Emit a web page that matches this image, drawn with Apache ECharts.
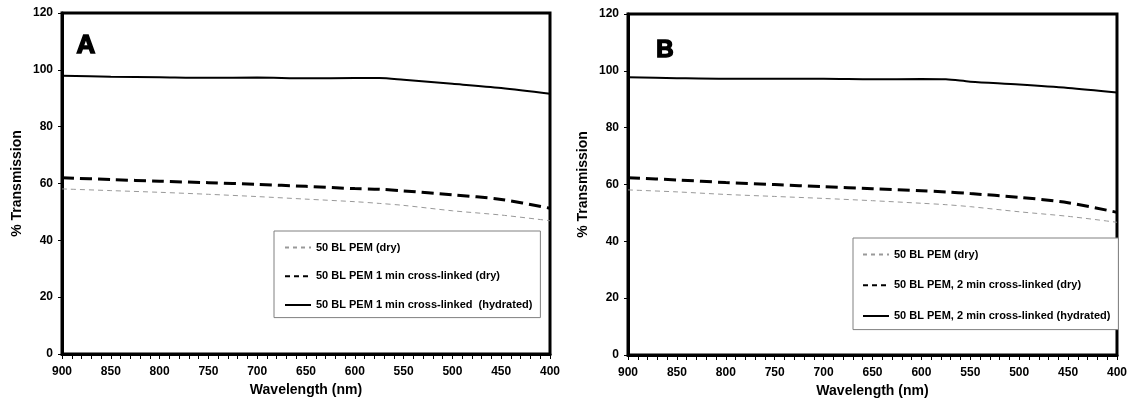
<!DOCTYPE html>
<html>
<head>
<meta charset="utf-8">
<script src="https://cdn.jsdelivr.net/npm/echarts@6/dist/echarts.min.js"></script>
<style>
  html, body { margin: 0; padding: 0; background: #fff; }
  #chart { width: 1130px; height: 408px; }
</style>
</head>
<body>
<div id="chart"></div>
<script>
// wavelength samples (nm)
var wavelengths = [900, 850, 800, 750, 700, 650, 600, 575, 550, 500, 450, 400];

// panel A - 1 min cross-linked
var dryA = [58.1, 57.5, 56.9, 56.2, 55.4, 54.5, 53.6, 53.0, 52.3, 50.4, 48.9, 46.9];
var xlDryA = [62.0, 61.4, 60.8, 60.3, 59.7, 59.0, 58.2, 58.0, 57.4, 56.0, 54.4, 51.3];
var xlHydA = [97.9, 97.6, 97.4, 97.2, 97.3, 97.0, 97.1, 97.1, 96.5, 95.1, 93.6, 91.6];

// panel B - 2 min cross-linked
var dryB = [58.1, 57.4, 56.5, 55.8, 55.1, 54.3, 53.4, 52.9, 52.2, 50.4, 48.8, 46.7];
var xlDryB = [62.4, 61.6, 60.7, 60.0, 59.2, 58.5, 57.8, 57.4, 56.8, 55.5, 53.6, 50.2];
var xlHydB = [97.7, 97.4, 97.2, 97.2, 97.2, 97.0, 97.1, 97.0, 96.2, 95.2, 94.0, 92.4];

var namesA = ['50 BL PEM (dry)', '50 BL PEM 1 min cross-linked (dry)', '50 BL PEM 1 min cross-linked  (hydrated)'];
var namesB = ['50 BL PEM (dry) ', '50 BL PEM, 2 min cross-linked (dry)', '50 BL PEM, 2 min cross-linked (hydrated)'];

var font = 'Liberation Sans, Arial, sans-serif';

function pairs(vals) {
	return wavelengths.map(function(w, i) {
		return [w, vals[i]];
	});
}

function makeSeries(idx, names, dry, xlDry, xlHyd) {
	return [{
		name: names[0], type: 'line', xAxisIndex: idx, yAxisIndex: idx,
		data: pairs(dry), symbol: 'none', smooth: 0.3, z: 3, color: '#999',
		lineStyle: { color: '#999', width: 1, type: [5, 4] }
	}, {
		name: names[1], type: 'line', xAxisIndex: idx, yAxisIndex: idx,
		data: pairs(xlDry), symbol: 'none', smooth: 0.3, z: 4, color: '#000',
		lineStyle: { color: '#000', width: 3, type: [12, 6] }
	}, {
		name: names[2], type: 'line', xAxisIndex: idx, yAxisIndex: idx,
		data: pairs(xlHyd), symbol: 'none', smooth: 0.3, z: 5, color: '#000',
		lineStyle: { color: '#000', width: 2, type: 'solid' }
	}];
}

function xAxis(idx) {
	return {
		type: 'value', gridIndex: idx, min: 400, max: 900, interval: 50, inverse: true,
		name: 'Wavelength (nm)', nameLocation: 'middle', nameGap: 27,
		nameTextStyle: { fontFamily: font, fontWeight: 'bold', fontSize: 14, color: '#000' },
		axisLine: { lineStyle: { color: '#000', width: 3 } },
		axisTick: { length: 5, lineStyle: { color: '#000', width: 1 } },
		minorTick: { show: true, splitNumber: 5, length: 5, lineStyle: { color: '#000', width: 1 } },
		axisLabel: { margin: 12, fontFamily: font, fontWeight: 'bold', fontSize: 12, color: '#000' },
		splitLine: { show: false }
	};
}

function yAxis(idx) {
	return {
		type: 'value', gridIndex: idx, min: 0, max: 120, interval: 20,
		name: '% Transmission', nameLocation: 'middle', nameGap: 38,
		nameTextStyle: { fontFamily: font, fontWeight: 'bold', fontSize: 14, color: '#000' },
		axisLine: { show: true, lineStyle: { color: '#000', width: 3 } },
		axisTick: { show: true, length: 4, lineStyle: { color: '#000', width: 1 } },
		axisLabel: { margin: 9, fontFamily: font, fontWeight: 'bold', fontSize: 12, color: '#000' },
		splitLine: { show: false }
	};
}

function legend(names, left, top, gap, pad) {
	return {
		orient: 'vertical', left: left, top: top,
		itemWidth: 26, itemHeight: 14, itemGap: gap, padding: pad,
		borderColor: '#808080', borderWidth: 1, borderRadius: 0,
		backgroundColor: '#fff',
		selectedMode: false,
		itemStyle: { opacity: 0, borderWidth: 0 },
		textStyle: { fontFamily: font, fontWeight: 'bold', fontSize: 11, color: '#000' },
		data: [
			{ name: names[0], lineStyle: { type: [4, 4] } },
			{ name: names[1], lineStyle: { type: [5, 4] } },
			{ name: names[2] }
		]
	};
}

var chart = echarts.init(document.getElementById('chart'));
chart.setOption({
	backgroundColor: '#fff',
	animation: false,
	grid: [
		{ left: 62, top: 13, width: 488, height: 341, show: true, borderColor: '#000', borderWidth: 3, backgroundColor: '#fff' },
		{ left: 628, top: 14, width: 491, height: 341, show: true, borderColor: '#000', borderWidth: 3, backgroundColor: '#fff' }
	],
	xAxis: [xAxis(0), xAxis(1)],
	yAxis: [yAxis(0), yAxis(1)],
	legend: [
		legend(namesA, 274, 231, 17.5, [11, 8, 7, 10]),
		legend(namesB, 853, 238, 19.5, [11, 8, 8, 9])
	],
	graphic: [
		{ type: 'text', x: 86, y: 46, z: 10, style: { text: 'A', fontFamily: font, fontWeight: 'bold', fontSize: 26, fill: '#000', stroke: '#000', lineWidth: 1.5, align: 'center', verticalAlign: 'middle' } },
		{ type: 'text', x: 665, y: 50, z: 10, style: { text: 'B', fontFamily: font, fontWeight: 'bold', fontSize: 24, fill: '#000', stroke: '#000', lineWidth: 1.5, align: 'center', verticalAlign: 'middle' } }
	],
	series: makeSeries(0, namesA, dryA, xlDryA, xlHydA).concat(makeSeries(1, namesB, dryB, xlDryB, xlHydB))
});
</script>
</body>
</html>
